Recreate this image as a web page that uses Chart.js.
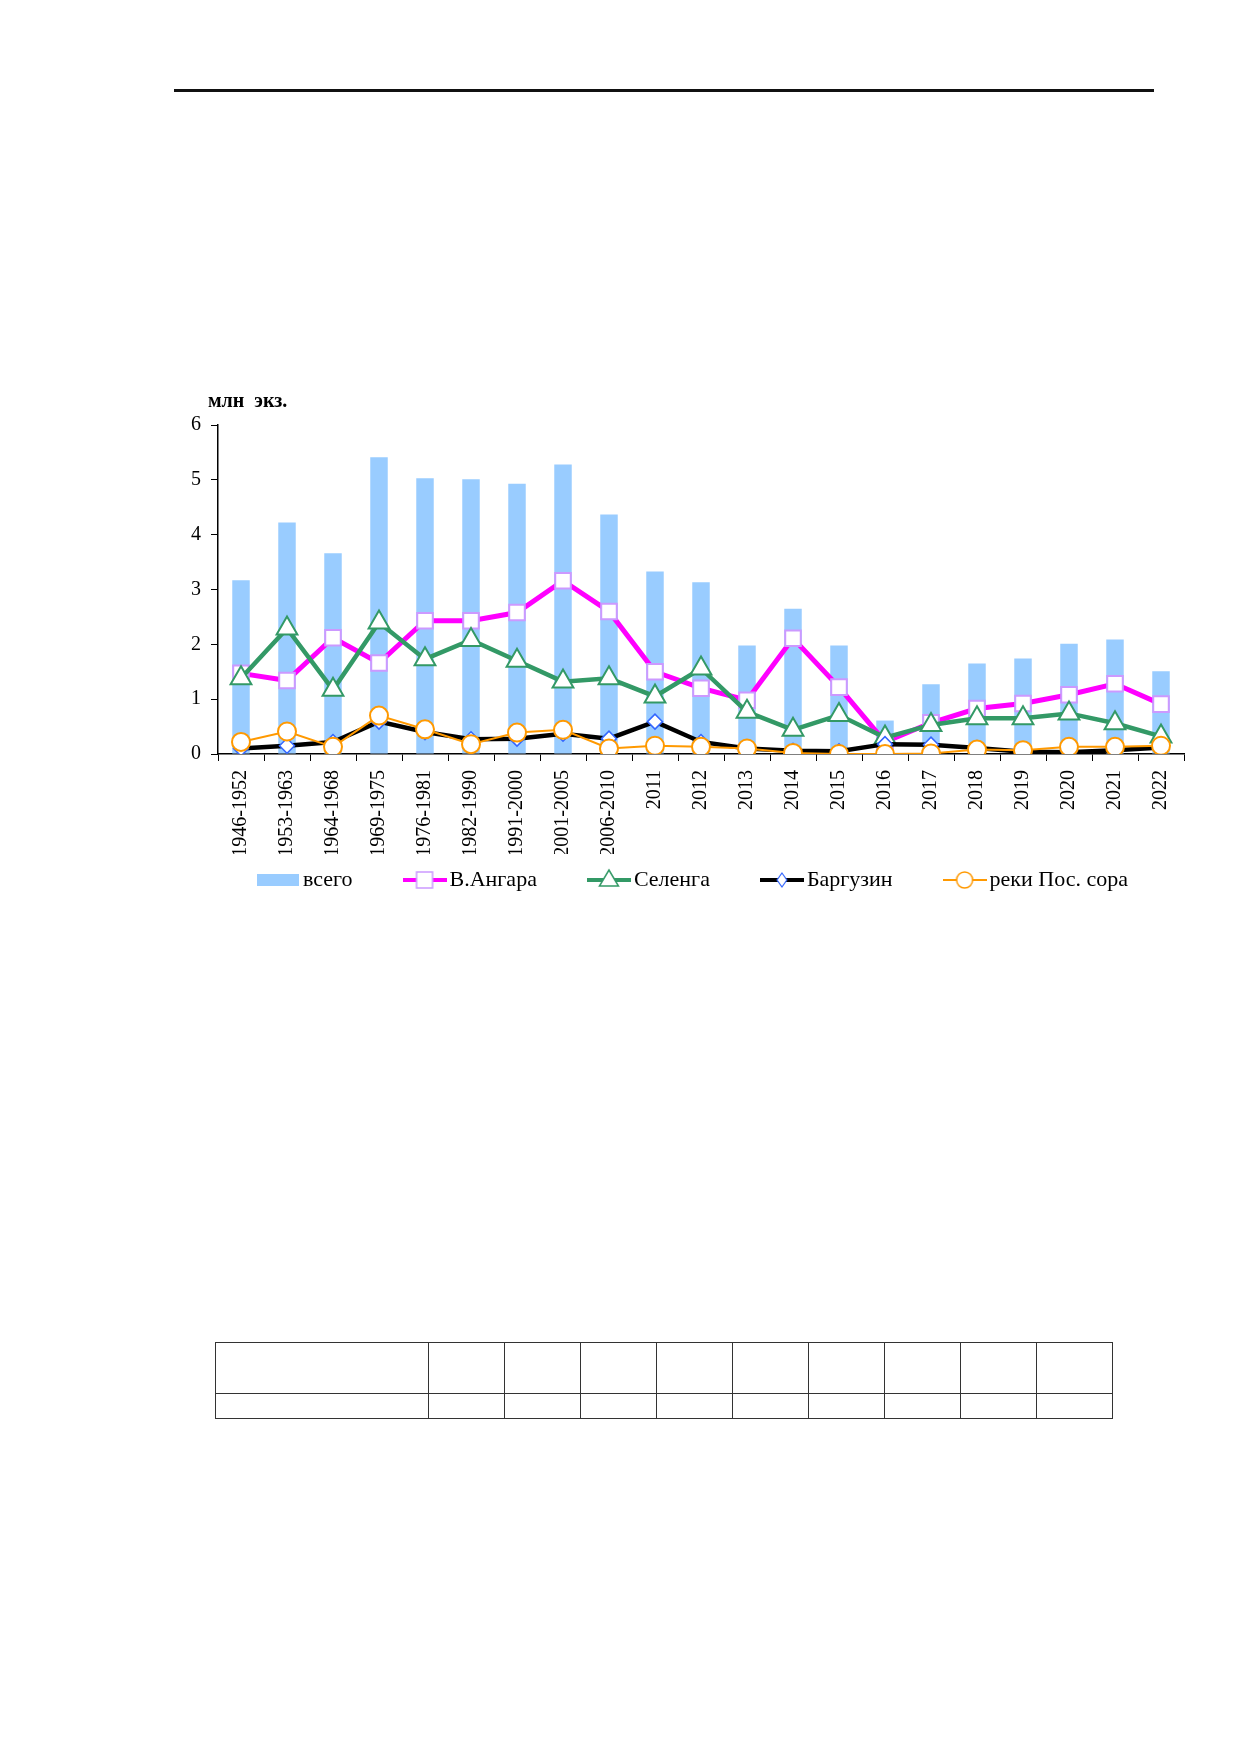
<!DOCTYPE html>
<html>
<head>
<meta charset="utf-8">
<script src="https://cdn.jsdelivr.net/npm/chart.js@4.4.0/dist/chart.umd.min.js"></script>
<style>
  html, body { margin: 0; padding: 0; background: #fff; }
  body { width: 1240px; height: 1754px; position: relative; overflow: hidden; }
  #topline { position: absolute; left: 174px; top: 89px; width: 980px; height: 3px; background: #111; }
  #wrap { position: absolute; left: 0; top: 0; width: 1240px; height: 944px; }
  #unit { position: absolute; left: 208px; top: 390px; font: bold 20px "Liberation Serif", "Times New Roman", serif; line-height: 20px; white-space: pre; color: #000; }
  table.grid { position: absolute; left: 215px; top: 1342px; border-collapse: collapse; }
  table.grid td { border: 1.5px solid #333; padding: 0; }
</style>
</head>
<body>
<div id="topline"></div>
<div id="wrap"><canvas id="c" width="1240" height="944"></canvas></div>
<div id="unit">млн  экз.</div>
<table class="grid">
  <tr style="height:51px"><td style="width:212px"></td><td style="width:75px"></td><td style="width:75px"></td><td style="width:75px"></td><td style="width:75px"></td><td style="width:75px"></td><td style="width:75px"></td><td style="width:75px"></td><td style="width:75px"></td><td style="width:75px"></td></tr>
  <tr style="height:25px"><td></td><td></td><td></td><td></td><td></td><td></td><td></td><td></td><td></td><td></td></tr>
</table>
<script>
// ---- data ----
const categories = ["1946-1952","1953-1963","1964-1968","1969-1975","1976-1981","1982-1990","1991-2000","2001-2005","2006-2010","2011","2012","2013","2014","2015","2016","2017","2018","2019","2020","2021","2022"];
const seriesNames = ["всего","В.Ангара","Селенга","Баргузин","реки Пос. сора"];
const total    = [3.17,4.22,3.66,5.41,5.03,5.01,4.93,5.28,4.37,3.33,3.13,1.98,2.65,1.98,0.61,1.27,1.65,1.74,2.01,2.09,1.51];
const vAngara  = [1.47,1.34,2.12,1.66,2.43,2.43,2.58,3.16,2.60,1.50,1.20,0.98,2.11,1.22,0.22,0.57,0.83,0.92,1.08,1.28,0.91];
const selenga  = [1.38,2.29,1.17,2.40,1.73,2.08,1.70,1.32,1.38,1.05,1.56,0.77,0.44,0.71,0.30,0.53,0.65,0.65,0.74,0.56,0.32];
const barguzin = [0.10,0.15,0.22,0.59,0.40,0.27,0.28,0.37,0.28,0.59,0.22,0.10,0.06,0.05,0.18,0.17,0.11,0.04,0.03,0.07,0.12];
const riversPS = [0.22,0.41,0.13,0.70,0.45,0.18,0.39,0.44,0.10,0.15,0.13,0.10,0.02,0.00,0.00,0.01,0.08,0.07,0.13,0.13,0.15];
const yTicks = [0,1,2,3,4,5,6];

// ---- legend symbols (line + marker) ----
function legendImg(kind, lineColor, lineW, markColor, markW, size) {
  const cv = document.createElement('canvas');
  cv.width = 44; cv.height = 24;
  const g = cv.getContext('2d');
  const cx = 22, cy = 12;
  if (kind === 'bar') {
    g.fillStyle = '#99CCFF';
    g.fillRect(1, 6, 42, 12);
    return cv;
  }
  g.strokeStyle = lineColor; g.lineWidth = lineW;
  g.beginPath(); g.moveTo(0, cy); g.lineTo(44, cy); g.stroke();
  g.fillStyle = '#fff'; g.strokeStyle = markColor; g.lineWidth = markW;
  g.beginPath();
  if (kind === 'rect') { g.rect(cx - size, cy - size, size * 2, size * 2); }
  else if (kind === 'triangle') { g.moveTo(cx, cy - size); g.lineTo(cx + size * 0.95, cy + size * 0.6); g.lineTo(cx - size * 0.95, cy + size * 0.6); g.closePath(); }
  else if (kind === 'rectRot') { g.moveTo(cx, cy - size); g.lineTo(cx + size * 0.7, cy); g.lineTo(cx, cy + size); g.lineTo(cx - size * 0.7, cy); g.closePath(); }
  else { g.arc(cx, cy, size, 0, Math.PI * 2); }
  g.fill(); g.stroke();
  return cv;
}
const legendImgs = [
  legendImg('bar'),
  legendImg('rect', '#FF00FF', 4, '#CC99FF', 1.5, 8),
  legendImg('triangle', '#339966', 4, '#339966', 1.5, 10),
  legendImg('rectRot', '#000000', 4, '#3366FF', 1.2, 7),
  legendImg('circle', '#FF9900', 2, '#FF9900', 1.5, 8)
];

const serif = '"Liberation Serif", "Times New Roman", serif';
const LEGEND_PAD = 58;
const LEGEND_FONT = 22;

// place the legend row where the reference has it
const legendPlacer = {
  id: 'legendPlacer',
  afterLayout(chart) {
    const L = chart.legend;
    if (!L) return;
    const dx = 696 - (L.left + L.right) / 2;
    L.left += dx; L.right += dx;
    const dy = 880 - (L.top + LEGEND_PAD + LEGEND_FONT / 2);
    L.top += dy; L.bottom += dy;
  }
};

new Chart(document.getElementById('c'), {
  data: {
    labels: categories,
    datasets: [
      { type: 'bar', label: seriesNames[0], data: total, backgroundColor: '#99CCFF', borderWidth: 0,
        barPercentage: 0.38, categoryPercentage: 1.0, order: 5 },
      { type: 'line', label: seriesNames[1], data: vAngara, borderColor: '#FF00FF', borderWidth: 5,
        pointStyle: 'rect', pointRadius: 11, pointBackgroundColor: '#fff', pointBorderColor: '#CC99FF', pointBorderWidth: 2,
        tension: 0, order: 4 },
      { type: 'line', label: seriesNames[2], data: selenga, borderColor: '#339966', borderWidth: 4.5,
        pointStyle: 'triangle', pointRadius: 12, pointBackgroundColor: '#fff', pointBorderColor: '#339966', pointBorderWidth: 2,
        tension: 0, order: 3 },
      { type: 'line', label: seriesNames[3], data: barguzin, borderColor: '#000000', borderWidth: 4.5,
        pointStyle: 'rectRot', pointRadius: 7.5, pointBackgroundColor: '#fff', pointBorderColor: '#3366FF', pointBorderWidth: 1.5,
        tension: 0, order: 2 },
      { type: 'line', label: seriesNames[4], data: riversPS, borderColor: '#FF9900', borderWidth: 2,
        pointStyle: 'circle', pointRadius: 9, pointBackgroundColor: '#fff', pointBorderColor: '#FF9900', pointBorderWidth: 2,
        tension: 0, order: 1 }
    ]
  },
  plugins: [legendPlacer],
  options: {
    responsive: false,
    animation: false,
    devicePixelRatio: 1,
    layout: { padding: { left: 173, right: 56, top: 425, bottom: 0 } },
    scales: {
      x: {
        type: 'category',
        offset: true,
        grid: { offset: true, drawOnChartArea: false, drawTicks: true, tickLength: 7, color: '#000', lineWidth: 1 },
        border: { display: true, color: '#000', width: 1.5 },
        ticks: { autoSkip: false, minRotation: 90, maxRotation: 90, padding: 9, color: '#000',
                 font: { family: serif, size: 20 } },
        afterFit: (s) => { s.height = 100; }
      },
      y: {
        min: 0, max: 6,
        afterBuildTicks: (s) => { s.ticks = yTicks.map(v => ({ value: v })); },
        grid: { drawOnChartArea: false, drawTicks: true, tickLength: 7, color: '#000', lineWidth: 1 },
        border: { display: true, color: '#000', width: 1.5 },
        ticks: { padding: 10, color: '#000', font: { family: serif, size: 20 } },
        afterFit: (s) => { s.width = 45; }
      }
    },
    plugins: {
      tooltip: { enabled: false },
      legend: {
        display: true,
        position: 'bottom',
        labels: {
          usePointStyle: true,
          pointStyleWidth: 28,
          padding: LEGEND_PAD,
          color: '#000',
          font: { family: serif, size: LEGEND_FONT },
          sort: (a, b) => a.datasetIndex - b.datasetIndex,
          generateLabels: (chart) => {
            const items = Chart.defaults.plugins.legend.labels.generateLabels(chart);
            items.forEach(it => { it.pointStyle = legendImgs[it.datasetIndex]; it.rotation = 0; });
            return items;
          }
        }
      }
    }
  }
});
</script>
</body>
</html>
